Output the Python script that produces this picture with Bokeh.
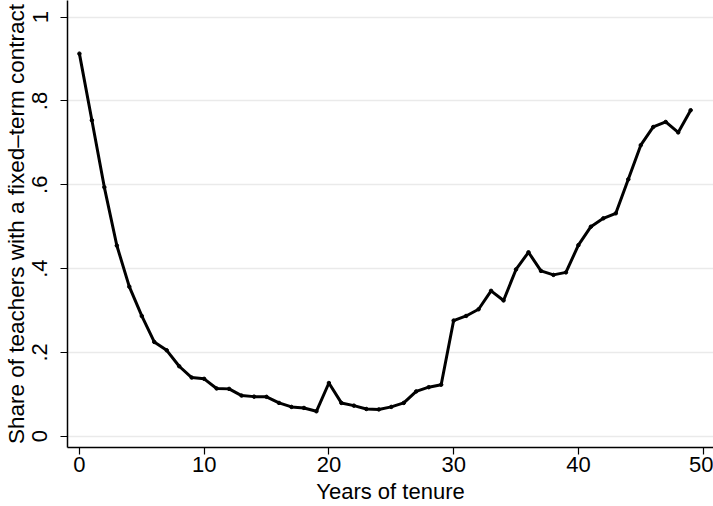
from bokeh.plotting import figure
from bokeh.models import FixedTicker, ColumnDataSource
from bokeh.embed import file_html
from bokeh.resources import INLINE

# Data
tenure = list(range(50))
share = [0.913, 0.754, 0.594, 0.455, 0.357, 0.287, 0.225, 0.205, 0.167, 0.140,
         0.137, 0.114, 0.113, 0.097, 0.0945, 0.094, 0.0795, 0.070, 0.0675, 0.0595,
         0.127, 0.0795, 0.073, 0.065, 0.064, 0.070, 0.0795, 0.107, 0.117, 0.123,
         0.276, 0.287, 0.303, 0.347, 0.324, 0.398, 0.439, 0.3945, 0.385, 0.391,
         0.456, 0.500, 0.520, 0.532, 0.613, 0.6945, 0.738, 0.750, 0.725, 0.778]
x_ticks = [0, 10, 20, 30, 40, 50]
y_ticks = [0, 0.2, 0.4, 0.6, 0.8, 1]
y_tick_labels = ["0", ".2", ".4", ".6", ".8", "1"]
x_title = "Years of tenure"
y_title = "Share of teachers with a fixed\u2013term contract"

FONT = "Liberation Sans"
FS = "22px"

src = ColumnDataSource(data=dict(x=tenure, y=share))

p = figure(width=713, height=506, output_backend="svg", toolbar_location=None,
           x_range=(-0.954, 50.83), y_range=(-0.0269, 1.0398),
           min_border_left=67, min_border_right=0, min_border_top=0, min_border_bottom=58)
p.outline_line_color = None
p.background_fill_color = "white"
p.border_fill_color = "white"

p.line("x", "y", source=src, line_color="black", line_width=3)
p.scatter("x", "y", source=src, size=3.5, color="black")

# x axis
xa = p.xaxis[0]
xa.ticker = FixedTicker(ticks=x_ticks)
xa.axis_label = x_title
xa.axis_label_text_font = FONT
xa.axis_label_text_font_size = FS
xa.axis_label_text_font_style = "normal"
xa.axis_label_text_color = "black"
xa.axis_label_standoff = 4
xa.major_label_text_font = FONT
xa.major_label_text_font_size = FS
xa.major_label_text_color = "black"
xa.major_label_standoff = 2
xa.major_tick_out = 7
xa.major_tick_in = 0
xa.minor_tick_out = 0
xa.minor_tick_in = 0
xa.axis_line_width = 1.5
xa.axis_line_color = "black"
xa.major_tick_line_width = 1.2
xa.major_tick_line_color = "black"

# y axis
ya = p.yaxis[0]
ya.ticker = FixedTicker(ticks=y_ticks)
ya.major_label_overrides = {t: l for t, l in zip(y_ticks, y_tick_labels)}
ya.major_label_orientation = "vertical"
ya.axis_label = y_title
ya.axis_label_text_font = FONT
ya.axis_label_text_font_size = "22.5px"
ya.axis_label_text_font_style = "normal"
ya.axis_label_text_color = "black"
ya.axis_label_standoff = 1
ya.major_label_text_font = FONT
ya.major_label_text_font_size = FS
ya.major_label_text_color = "black"
ya.major_label_standoff = 13
ya.major_tick_out = 7
ya.major_tick_in = 0
ya.minor_tick_out = 0
ya.minor_tick_in = 0
ya.axis_line_width = 1.5
ya.axis_line_color = "black"
ya.major_tick_line_width = 1.2
ya.major_tick_line_color = "black"

p.xgrid.grid_line_color = None
p.ygrid.grid_line_color = "#eaeaea"
p.ygrid.grid_line_width = 1.5

open("out.html", "w").write(file_html(p, INLINE))
